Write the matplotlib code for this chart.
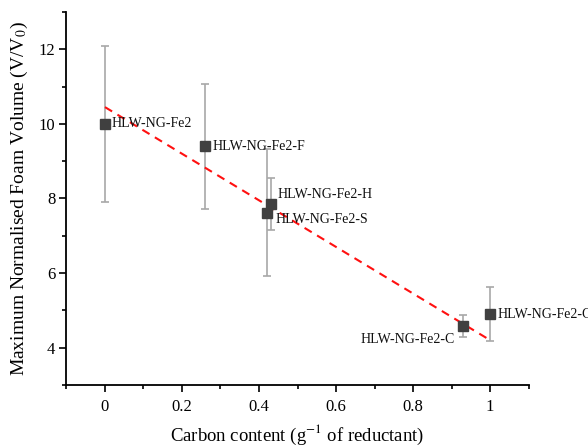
import numpy as np
import matplotlib
matplotlib.use("Agg")
import matplotlib.pyplot as plt
from matplotlib.ticker import MultipleLocator

plt.rcParams['font.family'] = ['Liberation Serif', 'DejaVu Serif']
plt.rcParams['mathtext.fontset'] = 'stix'

# samples: carbon content vs max normalised foam volume
samples = ['HLW-NG-Fe2', 'HLW-NG-Fe2-F', 'HLW-NG-Fe2-H', 'HLW-NG-Fe2-S',
           'HLW-NG-Fe2-C', 'HLW-NG-Fe2-G']
carbon = [0.0, 0.26, 0.43, 0.42, 0.93, 1.0]
foam = [10.0, 9.4, 7.85, 7.62, 4.58, 4.9]
foam_err = [2.1, 1.68, 0.7, 1.7, 0.3, 0.73]

# linear fit shown as dashed line
fit_intercept = 10.45
fit_slope = -6.25
fit_x = [0.0, 1.0]

# label offsets (points) and alignment
offsets = [(5, 0), (5, 0), (5, 7), (6, -5), (-6, -10), (5, 0)]
aligns = ['left', 'left', 'left', 'left', 'right', 'left']

fig = plt.figure(figsize=(5.88, 4.45), dpi=100)
ax = fig.add_axes([0.113, 0.135, 0.786, 0.838])

ax.errorbar(carbon, foam, yerr=foam_err, fmt='none', ecolor='#a8a8a8',
            elinewidth=1.2, capsize=3, capthick=1.2, zorder=2)
fx = np.array(fit_x)
ax.plot(fx, fit_intercept + fit_slope * fx, '--', color='#ff1010',
        lw=1.5, dashes=(4, 3), zorder=3)
ax.plot(carbon, foam, 's', color='#404040', ms=6.5, zorder=4)

for name, x, y, off, ha in zip(samples, carbon, foam, offsets, aligns):
    ax.annotate(name, (x, y), xytext=off, textcoords='offset points',
                ha=ha, va='center', fontsize=10, color='#101010')

ax.set_xlim(-0.1, 1.1)
ax.set_ylim(3, 13)
ax.xaxis.set_minor_locator(MultipleLocator(0.1))
ax.yaxis.set_major_locator(MultipleLocator(2))
ax.yaxis.set_minor_locator(MultipleLocator(1))
ax.set_xticks([0, 0.2, 0.4, 0.6, 0.8, 1.0])
ax.set_xticklabels(['0', '0.2', '0.4', '0.6', '0.8', '1'])
ax.tick_params(which='major', direction='out', length=5, width=1.2,
               labelsize=12)
ax.tick_params(axis='x', which='major', pad=5)
ax.tick_params(axis='y', which='major', pad=3)
ax.tick_params(which='minor', direction='out', length=3, width=1.2)

for s in ['top', 'right']:
    ax.spines[s].set_visible(False)
for s in ['left', 'bottom']:
    ax.spines[s].set_linewidth(1.3)

ax.set_xlabel('Carbon content (g$^{-1}$ of reductant)', fontsize=13.5, labelpad=6)
ax.set_ylabel('Maximum Normalised Foam Volume (V/V$_0$)', fontsize=14, labelpad=6)

fig.savefig('out.png', dpi=100)
